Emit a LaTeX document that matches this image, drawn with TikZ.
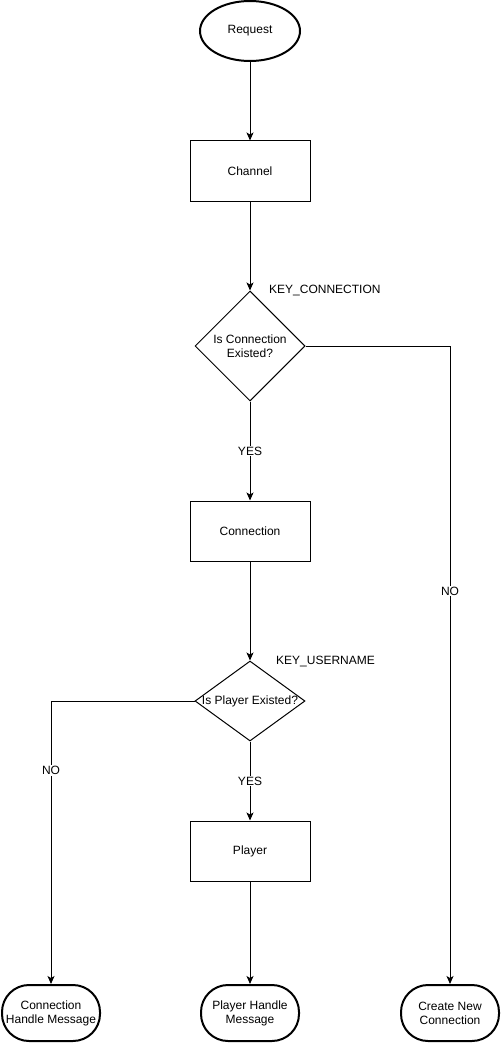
\documentclass[tikz,border=0pt]{standalone}
\usepackage{fontspec}
\setmainfont{Liberation Sans}
\usetikzlibrary{shapes.geometric,arrows.meta,calc}
\begin{document}
\begin{tikzpicture}[x=1pt,y=-1pt,
  every node/.style={font=\fontsize{12}{14}\selectfont},
  proc/.style={draw,line width=1pt,minimum width=120pt,minimum height=60pt,inner sep=0pt},
  term/.style={draw,line width=2pt,rounded corners=27pt,minimum width=98pt,minimum height=56pt,inner sep=0pt,align=center},
  startnode/.style={draw,line width=2pt,ellipse,minimum width=100pt,minimum height=60pt,inner sep=0pt},
  decision/.style={draw,line width=1pt,diamond,inner sep=0pt,minimum width=110pt},
  arr/.style={line width=1pt,-{Stealth[length=8pt,width=7pt,inset=2pt]}},
  lbl/.style={fill=white,inner sep=1pt},
  keylbl/.style={anchor=west,inner sep=0pt}]
\useasboundingbox (0,0) rectangle (503,1043);
\node[startnode] (req) at (250,31) {Request};
\node[proc] (chan) at (250,171) {Channel};
\node[decision,minimum height=110pt,label={[align=center]center:Is Connection\\Existed?}] (d1) at (250,346) {};
\node[proc] (conn) at (250,531) {Connection};
\node[decision,minimum height=80pt,label={center:Is Player Existed?}] (d2) at (250,701) {};
\node[proc] (play) at (250,851) {Player};
\node[term] (t1) at (51,1013) {Connection\\Handle Message};
\node[term] (t2) at (250,1013) {Player Handle\\Message};
\node[term] (t3) at (450,1013) {Create New\\Connection};
\node[keylbl] (k1) at (269,291) {KEY\_CONNECTION};
\node[keylbl] (k2) at (276,661) {KEY\_USERNAME};
\draw[arr] (req) -- (chan);
\draw[arr] (chan) -- (d1.north);
\draw[arr] (d1.south) -- node[lbl] {YES} (conn.north);
\draw[arr] (d1.east) -| node[lbl,pos=0.692] {NO} (t3.north);
\draw[arr] (conn) -- (d2.north);
\draw[arr] (d2.south) -- node[lbl] {YES} (play.north);
\draw[arr] (d2.west) -| node[lbl,pos=0.623] {NO} (t1.north);
\draw[arr] (play) -- (t2.north);
\end{tikzpicture}
\end{document}
